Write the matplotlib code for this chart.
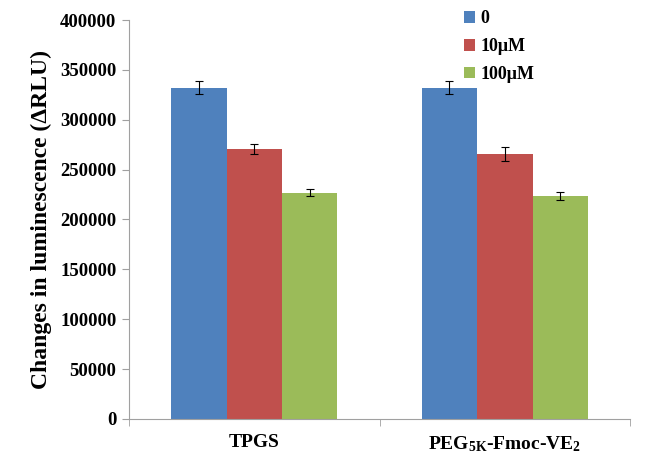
import numpy as np
import matplotlib
matplotlib.use("Agg")
import matplotlib.pyplot as plt

plt.rcParams['font.family'] = ['Liberation Serif', 'DejaVu Serif']
plt.rcParams['font.weight'] = 'bold'
plt.rcParams['mathtext.fontset'] = 'custom'
plt.rcParams['mathtext.rm'] = 'Liberation Serif:bold'
plt.rcParams['mathtext.bf'] = 'Liberation Serif:bold'
plt.rcParams['mathtext.it'] = 'Liberation Serif:bold'

categories = ['TPGS', r'PEG$_{\mathrm{5K}}$-Fmoc-VE$_{\mathrm{2}}$']
series_names = ['0', '10\u03bcM', '100\u03bcM']
values_0 = [332000, 332000]
values_10 = [271000, 266000]
values_100 = [227000, 223500]
err_0 = [6500, 6500]
err_10 = [5000, 7000]
err_100 = [3300, 3700]
colors = ['#4F81BD', '#C0504D', '#9BBB59']

fig = plt.figure(figsize=(6.45, 4.66), dpi=100)
ax = fig.add_axes([0.2, 0.101, 0.777, 0.856])

x = np.arange(len(categories))
width = 0.221
series = [(values_0, err_0), (values_10, err_10), (values_100, err_100)]
for i, (vals, errs) in enumerate(series):
    ax.bar(x + (i - 1) * width, vals, width, color=colors[i], label=series_names[i],
           yerr=errs, error_kw=dict(ecolor='black', elinewidth=0.8, capsize=3, capthick=0.8))

ax.set_xlim(-0.5, 1.5)
ax.set_ylim(0, 400000)
ax.set_yticks(np.arange(0, 400001, 50000))
ax.set_yticklabels([str(v) for v in range(0, 400001, 50000)], fontsize=13.5, fontweight='bold')
ax.set_xticks(x)
ax.set_xticklabels(categories, fontsize=14, fontweight='bold')
ax.tick_params(axis='x', length=0, pad=11)
ax.set_xticks([-0.5, 0.5, 1.5], minor=True)
ax.tick_params(axis='x', which='minor', length=5, color='#A0A0A0', direction='out')
ax.tick_params(axis='y', length=5, color='#A0A0A0', direction='out', pad=4)

for s in ['top', 'right']:
    ax.spines[s].set_visible(False)
for s in ['left', 'bottom']:
    ax.spines[s].set_color('#A0A0A0')
    ax.spines[s].set_linewidth(0.8)

ax.set_ylabel('Changes in luminescence (\u0394RLU)', fontsize=17, fontweight='bold', labelpad=6)

leg = ax.legend(loc='upper left', bbox_to_anchor=(0.636, 1.065), frameon=False,
                prop={'family': 'Liberation Serif', 'weight': 'bold', 'size': 13},
                handlelength=0.6, handleheight=0.6, handletextpad=0.3, labelspacing=0.6)

fig.savefig('out.png', dpi=100)
